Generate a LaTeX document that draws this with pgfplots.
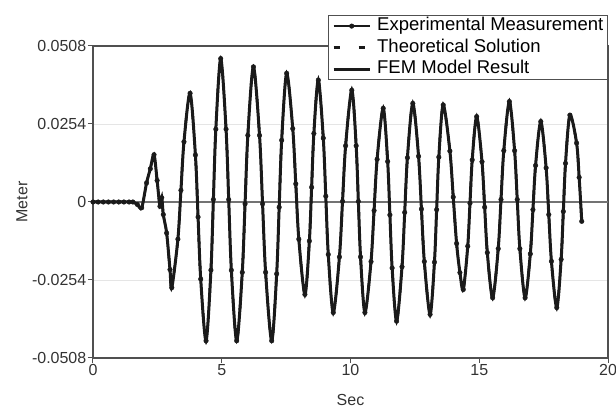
\documentclass[border=0pt]{standalone}
\usepackage{pgfplots}
\pgfplotsset{compat=1.18}
\usepackage{pgfplotstable}
\usepackage{fontspec}
\setmainfont{Liberation Sans}
\definecolor{frame}{HTML}{505050}
\definecolor{curve}{HTML}{1A1A1A}

\pgfplotstableread{
x y
0 0
0.2 0
0.4 0
0.6 0
0.8 0
1.0 0
1.2 0
1.4 0
1.55 0
1.72 -0.0008
1.89 -0.0019
2.08 0.0062
2.225 0.0108
2.37 0.0154
2.49 0.0070
2.60 -0.0014
2.67 0.0014
2.73 -0.0041
2.86 -0.0101
2.99 -0.0220
3.06 -0.0279
3.297 -0.0121
3.415 0.0038
3.533 0.0196
3.77 0.0354
3.977 0.0153
4.08 -0.0049
4.183 -0.0251
4.39 -0.0452
4.58 -0.0222
4.675 0.0008
4.77 0.0237
4.96 0.0467
5.167 0.0237
5.27 0.0008
5.373 -0.0222
5.58 -0.0452
5.797 -0.0229
5.905 -0.0006
6.013 0.0217
6.23 0.0440
6.467 0.0217
6.585 -0.0006
6.703 -0.0229
6.94 -0.0452
7.133 -0.0234
7.23 -0.0017
7.327 0.0201
7.52 0.0419
7.757 0.0239
7.875 0.0059
7.993 -0.0121
8.23 -0.0301
8.403 -0.0127
8.49 0.0048
8.577 0.0223
8.75 0.0397
8.943 0.0208
9.04 0.0019
9.137 -0.0171
9.33 -0.0360
9.57 -0.0179
9.69 0.0002
9.81 0.0183
10.05 0.0364
10.22 0.0183
10.305 0.0002
10.39 -0.0179
10.56 -0.0360
10.797 -0.0194
10.915 -0.0028
11.033 0.0139
11.27 0.0305
11.443 0.0132
11.53 -0.0042
11.617 -0.0215
11.79 -0.0388
12.0 -0.0211
12.105 -0.0034
12.21 0.0144
12.42 0.0321
12.643 0.0149
12.755 -0.0023
12.867 -0.0194
13.09 -0.0366
13.26 -0.0196
13.345 -0.0025
13.43 0.0146
13.60 0.0316
13.86 0.0166
13.99 0.0016
14.12 -0.0135
14.25 -0.0230
14.38 -0.0285
14.553 -0.0144
14.64 -0.0004
14.727 0.0137
14.90 0.0278
15.107 0.0131
15.21 -0.0017
15.313 -0.0165
15.52 -0.0312
15.737 -0.0152
15.845 0.0008
15.953 0.0167
16.17 0.0327
16.373 0.0167
16.475 0.0008
16.577 -0.0152
16.78 -0.0312
16.983 -0.0169
17.085 -0.0025
17.187 0.0119
17.39 0.0262
17.597 0.0111
17.7 -0.0041
17.803 -0.0193
18.01 -0.0344
18.18 -0.0187
18.265 -0.0031
18.35 0.0126
18.52 0.0283
18.78 0.0192
18.88 0.0080
18.98 -0.0063
}\expdata

\begin{document}
\begin{tikzpicture}
\begin{axis}[
  name=ax, scale only axis, width=515pt, height=312pt,
  xmin=0, xmax=20, ymin=-0.0508, ymax=0.0508,
  scaled y ticks=false, scaled x ticks=false,
  xtick={0,5,10,15,20}, xticklabels={0,5,10,15,20},
  ytick={-0.0508,-0.0254,0,0.0254,0.0508},
  yticklabels={-0.0508,-0.0254,0,0.0254,0.0508},
  tick align=outside, major tick length=5pt,
  xtick pos=bottom, ytick pos=left,
  axis line style={frame, line width=1.5pt},
  tick style={frame, line width=1pt},
  ymajorgrids, major grid style={black!10, line width=0.8pt},
  ticklabel style={font=\fontsize{16}{19}\selectfont, text=black!80, inner sep=1.5pt},
  xlabel={Sec}, ylabel={Meter},
  label style={font=\fontsize{16}{19}\selectfont, text=black!80},
  xlabel style={at={(axis description cs:0.5,-0.135)}, anchor=center},
  ylabel style={at={(axis description cs:-0.138,0.5)}, anchor=center},
  legend style={at={(1,1)}, anchor=north east, yshift=31pt, draw=frame, line width=1.2pt,
    fill=white, font=\fontsize{18.5}{21}\selectfont, inner xsep=4pt, inner ysep=2pt,
    row sep=4.5pt, nodes={inner sep=0pt, text height=13.3pt, text depth=3.7pt}},
  legend cell align=left,
  legend image code/.code={\draw[mark repeat=2,mark phase=2,#1] plot coordinates {(0pt,0pt) (18pt,0pt) (36pt,0pt)}; \path (42pt,0pt);},
]
\addplot[black!55, line width=1.6pt, forget plot] coordinates {(0,0) (20,0)};
\addplot[curve, line width=2pt, smooth, mark=*, mark size=2.3pt, mark options={solid, fill=curve, draw=curve, line width=0.4pt}] table {\expdata};
\addlegendentry{Experimental Measurement}
\addplot[curve, line width=2.5pt, smooth, dash pattern=on 6pt off 19pt] table {\expdata};
\addlegendentry{Theoretical Solution}
\addplot[curve, line width=3pt, smooth] table {\expdata};
\addlegendentry{FEM Model Result}
\end{axis}
\pgfresetboundingbox
\path[use as bounding box] ([xshift=-93pt,yshift=-52pt]ax.south west) rectangle ([xshift=8pt,yshift=46pt]ax.north east);
\end{tikzpicture}
\end{document}
